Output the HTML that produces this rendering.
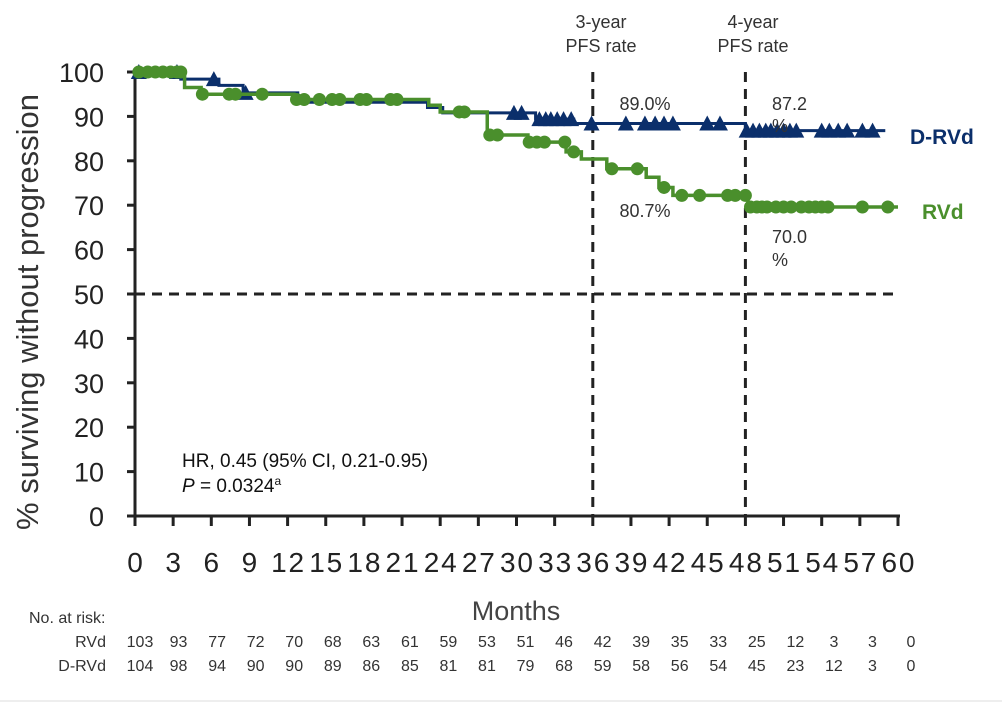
<!DOCTYPE html>
<html><head><meta charset="utf-8"><style>
body{margin:0;background:#fff;width:1002px;height:703px;overflow:hidden;font-family:"Liberation Sans",sans-serif}
svg text{font-family:"Liberation Sans",sans-serif}
</style></head><body>
<svg id="c" width="1002" height="703"></svg>
<script>
const xTicks=[0,3,6,9,12,15,18,21,24,27,30,33,36,39,42,45,48,51,54,57,60];
const yTicks=[0,10,20,30,40,50,60,70,80,90,100];
const drvdSteps=[[0,100],[3.6,98.4],[6.6,97],[8.5,95.3],[12.8,93.2],[23,92],[24.2,90.8],[31.5,89.4],[34.5,88.4],[48,86.8],[59,86.8]];
const rvdSteps=[[0,100],[3.9,96.5],[5.2,95],[12.5,93.8],[23.1,92.5],[24,91],[27.7,85.8],[30.9,84.2],[33.9,82],[35.1,80.4],[37.1,78.2],[40.2,76.3],[41.2,74],[42.3,72.2],[48.2,69.6],[60,69.6]];
const drvdCens=[0.3,3.3,6.2,8.7,29.8,30.4,31.8,32.3,32.7,33.2,33.7,34.3,35.9,38.6,40.1,40.9,41.6,42.3,45,46,48.1,48.6,49.1,49.6,50,50.5,51,51.5,52,54,54.6,55.3,56,57.2,58];
const rvdCens=[0.3,1,1.6,2.2,2.8,3.3,3.6,5.3,7.4,7.9,10,12.7,13.3,14.5,15.5,16.1,17.7,18.2,20.1,20.6,25.5,25.9,27.9,28.5,31,31.6,32.2,33.8,34.5,37.5,39.5,41.6,43,44.4,46.6,47.2,48,48.4,48.9,49.3,49.7,50.4,51,51.6,52.4,53,53.5,54,54.5,57.2,59.2];
const riskRVd=[103,93,77,72,70,68,63,61,59,53,51,46,42,39,35,33,25,12,3,3,0];
const riskDRVd=[104,98,94,90,90,89,86,85,81,81,79,68,59,58,56,54,45,23,12,3,0];
const ns="http://www.w3.org/2000/svg",svg=document.getElementById('c');
const X=t=>135+t*763/60, Y=v=>516-v*4.44;
function el(tag,attrs,name,parent){const e=document.createElementNS(ns,tag);for(const k in attrs)e.setAttribute(k,attrs[k]);


(parent||svg).appendChild(e);return e;}
function txt(s,x,y,size,anchor,fill,name,weight){const t=el('text',{x:x,y:y,'font-size':size,'text-anchor':anchor||'middle',fill:fill||'#222','font-weight':weight||'normal'},name);t.textContent=s;return t;}
el('line',{x1:135,y1:72,x2:135,y2:518,stroke:'#222','stroke-width':3},'y-axis');
el('line',{x1:133,y1:516,x2:900,y2:516,stroke:'#222','stroke-width':3},'x-axis');
yTicks.forEach(v=>{el('line',{x1:127,y1:Y(v),x2:135,y2:Y(v),stroke:'#222','stroke-width':3},'y-tick');
txt(String(v),104,Y(v)+10,27,'end','#222','y-tick-label');});
xTicks.forEach((t,i)=>{el('line',{x1:X(t),y1:516,x2:X(t),y2:526,stroke:'#222','stroke-width':3},'x-tick');
txt(String(t),X(t),572,28,'middle','#222','x-tick-label').setAttribute('textLength',t>=10?'33':'16');});
txt('% surviving without progression',38,312,31,'middle','#333','y-axis-title').setAttribute('transform','rotate(-90 38 312)');
txt('Months',516,620,27,'middle','#444','x-axis-title');
el('line',{x1:135,y1:Y(50),x2:895,y2:Y(50),stroke:'#222','stroke-width':3,'stroke-dasharray':'10,7'},'median-line');
[36,48].forEach(t=>el('line',{x1:X(t),y1:72,x2:X(t),y2:516,stroke:'#222','stroke-width':3,'stroke-dasharray':'10,7'},'landmark-line'));
txt('3-year',601,28,18,'middle','#333','landmark-3yr-label');txt('PFS rate',601,52,18,'middle','#333','landmark-3yr-label');
txt('4-year',753,28,18,'middle','#333','landmark-4yr-label');txt('PFS rate',753,52,18,'middle','#333','landmark-4yr-label');
function stepPath(s){let d='M'+X(s[0][0])+','+Y(s[0][1]);for(let i=1;i<s.length;i++){d+=' H'+X(s[i][0])+' V'+Y(s[i][1]);}return d;}
function valAt(s,t){let v=s[0][1];for(const p of s){if(p[0]<=t)v=p[1];}return v;}
el('path',{d:stepPath(drvdSteps),fill:'none',stroke:'#0b2f6b','stroke-width':3},'drvd-curve');
drvdCens.forEach(t=>{const x=X(t),y=Y(valAt(drvdSteps,t));el('path',{d:`M${x-8},${y+7}L${x},${y-8}L${x+8},${y+7}Z`,fill:'#0b2f6b'},'drvd-censor-mark');});
el('path',{d:stepPath(rvdSteps),fill:'none',stroke:'#4a8f2c','stroke-width':3.5},'rvd-curve');
rvdCens.forEach(t=>{el('circle',{cx:X(t),cy:Y(valAt(rvdSteps,t)),r:6.5,fill:'#4a8f2c'},'rvd-censor-mark');});
txt('D-RVd',910,144,21,'start','#0b2f6b','drvd-label','bold');
txt('RVd',922,219,21,'start','#4a8f2c','rvd-label','bold');
txt('89.0%',645,110,18,'middle','#333','drvd-3yr-rate');
txt('80.7%',645,217,18,'middle','#333','rvd-3yr-rate');
txt('87.2',772,110,18,'start','#333','drvd-4yr-rate');txt('%',772,132,18,'start','#333','drvd-4yr-rate');
txt('70.0',772,243,18,'start','#333','rvd-4yr-rate');txt('%',772,266,18,'start','#333','rvd-4yr-rate');
txt('HR, 0.45 (95% CI, 0.21-0.95)',182,467,19,'start','#111','hazard-ratio');
const p=txt('',182,492,19,'start','#111','p-value');p.innerHTML='<tspan font-style="italic">P</tspan> = 0.0324<tspan font-size="12" dy="-7">a</tspan>';
txt('No. at risk:',29,623,16,'start','#333','risk-table-title');
txt('RVd',106,647,16,'end','#333','risk-row-label-rvd');txt('D-RVd',106,671,16,'end','#333','risk-row-label-drvd');
riskRVd.forEach((v,i)=>txt(String(v),140+i*38.55,647,16,'middle','#333','risk-rvd-count'));
riskDRVd.forEach((v,i)=>txt(String(v),140+i*38.55,671,16,'middle','#333','risk-drvd-count'));
el('line',{x1:0,y1:701,x2:1002,y2:701,stroke:'#eee','stroke-width':2},'bottom-rule');
</script></body></html>
